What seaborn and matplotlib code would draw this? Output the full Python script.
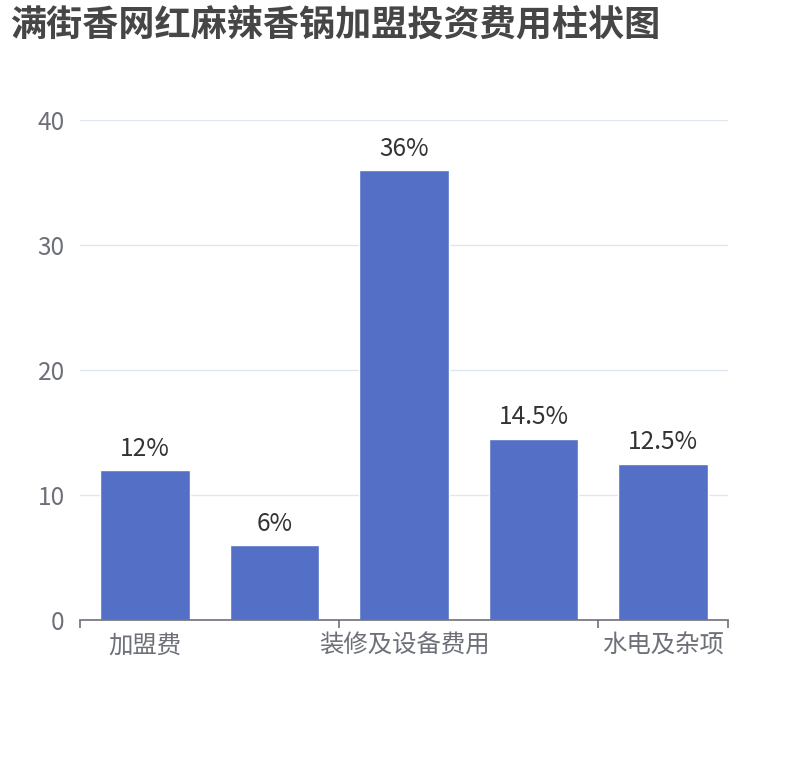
import numpy as np
import pandas as pd
import matplotlib.pyplot as plt
import seaborn as sns

# data
categories = ["加盟费", "首批进货费", "装修及设备费用", "人员工资", "水电及杂项"]
values = [12, 6, 36, 14.5, 12.5]
value_labels = ["12%", "6%", "36%", "14.5%", "12.5%"]
shown_idx = [0, 2, 4]  # labels echarts kept visible
y_ticks = [0, 10, 20, 30, 40]

sns.set_style("white")
plt.rcParams['font.family'] = ['Noto Sans CJK SC', 'DejaVu Sans']

df = pd.DataFrame({"category": categories, "value": values})

fig = plt.figure(figsize=(8.1, 7.6), dpi=100)
ax = fig.add_axes([80 / 810, 1 - 620 / 760, 648 / 810, 500 / 760])

sns.barplot(data=df, x="category", y="value", color="#5470C6", saturation=1,
            width=0.69, ax=ax)

ax.set_xlim(-0.5, len(categories) - 0.5)
ax.set_ylim(0, 40)
ax.set_yticks(y_ticks)
ax.set_yticklabels([str(t) for t in y_ticks])
ax.grid(axis="y", color="#E0E6F1", linewidth=1)
ax.set_axisbelow(True)

# category labels only on every other bar, ticks on the boundaries
ax.set_xticks(shown_idx)
ax.set_xticklabels([categories[i] for i in shown_idx])
ax.set_xticks([-0.5, 1.5, 3.5, 4.5], minor=True)
ax.tick_params(axis="x", which="major", bottom=False, length=0, pad=9,
               labelsize=17.6, labelcolor="#6E7079")
ax.tick_params(axis="x", which="minor", bottom=True, length=6, width=1.2,
               color="#6E7079")
ax.tick_params(axis="y", length=0, pad=11, labelsize=17.6, labelcolor="#6E7079")

for side in ["top", "right", "left"]:
    ax.spines[side].set_visible(False)
ax.spines["bottom"].set_color("#6E7079")
ax.spines["bottom"].set_linewidth(1.2)
ax.set_xlabel("")
ax.set_ylabel("")

ax.bar_label(ax.containers[0], labels=value_labels, padding=6,
             fontsize=17.6, color="#333333")

fig.text(10 / 810, 1 - 25 / 760, "满街香网红麻辣香锅加盟投资费用柱状图",
         fontsize=26, fontweight="bold", color="#464646", va="center", ha="left")

fig.savefig("out.png", dpi=100)
